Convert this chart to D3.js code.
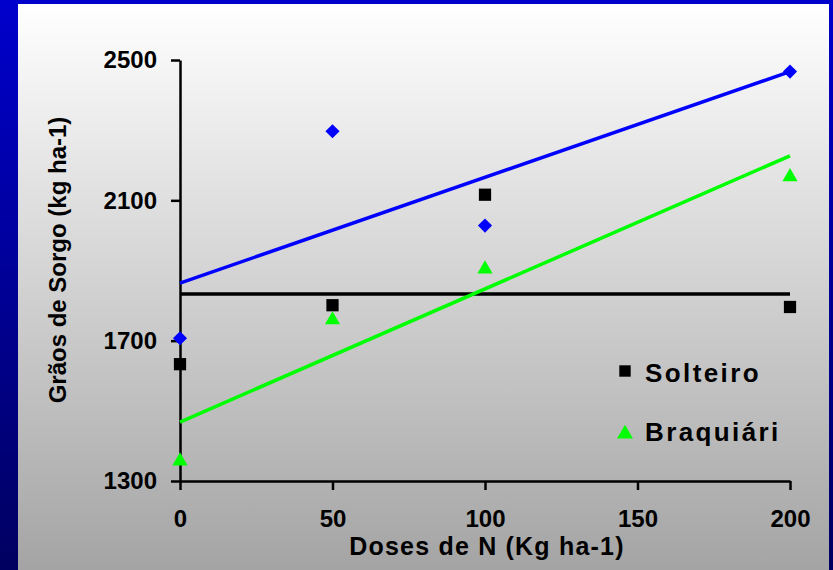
<!DOCTYPE html>
<html>
<head>
<meta charset="utf-8">
<script src="https://cdn.jsdelivr.net/npm/d3@7"></script>
<style>
  body { margin: 0; padding: 0; overflow: hidden; }
  svg { display: block; font-family: "Liberation Sans", Arial, sans-serif; font-weight: bold; }
</style>
</head>
<body>
<div id="chart"></div>
<script>
// Data
const doses = [0, 50, 100, 200];
const solteiro = [1633, 1801, 2116, 1796];
const braquiaria = [1357, 1759, 1904, 2167];
const serie3 = [1707, 2297, 2028, 2467];

// Trend lines (values at dose 0 and 200)
const fitDoses = [0, 200];
const fitSolteiro = [1833, 1833];
const fitBraquiaria = [1468, 2227];
const fitSerie3 = [1864, 2467];

const xTicks = [0, 50, 100, 150, 200];
const yTicks = [1300, 1700, 2100, 2500];

const W = 833, H = 570;
const margin = { top: 60, right: 43, bottom: 89, left: 180 };
const width = W - margin.left - margin.right;
const height = H - margin.top - margin.bottom;

const svg = d3.select("#chart")
    .append("svg")
    .attr("width", W)
    .attr("height", H);

// Backgrounds
const defs = svg.append("defs");
const blue = defs.append("linearGradient").attr("id", "blue")
    .attr("x1", 0).attr("y1", 0).attr("x2", 0).attr("y2", 1);
blue.append("stop").attr("offset", "0%").attr("stop-color", "#0000cc");
blue.append("stop").attr("offset", "100%").attr("stop-color", "#000060");
const gray = defs.append("linearGradient").attr("id", "gray")
    .attr("x1", 0).attr("y1", 0).attr("x2", 0).attr("y2", 1);
gray.append("stop").attr("offset", "0%").attr("stop-color", "#ffffff");
gray.append("stop").attr("offset", "100%").attr("stop-color", "#a4a4a4");

svg.append("rect").attr("width", W).attr("height", H).attr("fill", "url(#blue)");
svg.append("rect").attr("x", 18).attr("y", 4).attr("width", 811).attr("height", H - 4)
    .attr("fill", "url(#gray)");

const g = svg.append("g")
    .attr("transform", "translate(" + margin.left + "," + margin.top + ")");

// Scales
const x = d3.scaleLinear().domain([0, 200]).range([0, width]);
const y = d3.scaleLinear().domain([1300, 2500]).range([height, 0]);

// Axes
const xAxis = g.append("g")
    .attr("transform", "translate(0," + height + ")")
    .call(d3.axisBottom(x).tickValues(xTicks).tickFormat(d3.format("d"))
        .tickSize(9).tickSizeOuter(0).tickPadding(20));
const yAxis = g.append("g")
    .call(d3.axisLeft(y).tickValues(yTicks).tickFormat(d3.format("d"))
        .tickSize(9).tickSizeOuter(0).tickPadding(14));

[xAxis, yAxis].forEach(a => {
    a.select(".domain").attr("stroke", "#000").attr("stroke-width", 2.5);
    a.selectAll(".tick line").attr("stroke", "#000").attr("stroke-width", 2.5);
    a.selectAll(".tick text")
        .attr("fill", "#000")
        .style("font-size", "24px")
        .style("font-weight", "bold")
        .style("font-family", "'Liberation Sans', Arial, sans-serif");
});

// Trend lines
const line = d3.line()
    .x(d => x(d[0]))
    .y(d => y(d[1]));

const fits = [
    { vals: fitSolteiro, color: "#000000" },
    { vals: fitSerie3, color: "#0000ff" },
    { vals: fitBraquiaria, color: "#00ff00" }
];
g.selectAll(".fit")
    .data(fits)
    .enter()
    .append("path")
    .attr("class", "fit")
    .attr("fill", "none")
    .attr("stroke", d => d.color)
    .attr("stroke-width", 3.5)
    .attr("d", d => line(d3.zip(fitDoses, d.vals)));

// Points
const series = [
    { vals: solteiro, color: "#000000", symbol: d3.symbolSquare, size: 150, rotate: 0 },
    { vals: serie3, color: "#0000ff", symbol: d3.symbolSquare, size: 100, rotate: 45 },
    { vals: braquiaria, color: "#00ff00", symbol: d3.symbolTriangle, size: 100, rotate: 0 }
];

series.forEach(s => {
    g.selectAll(null)
        .data(d3.zip(doses, s.vals))
        .enter()
        .append("path")
        .attr("d", d3.symbol().type(s.symbol).size(s.size))
        .attr("fill", s.color)
        .attr("transform", d => "translate(" + x(d[0]) + "," + y(d[1]) + ") rotate(" + s.rotate + ")");
});

// Axis titles
svg.append("text")
    .attr("x", 487)
    .attr("y", 555)
    .attr("text-anchor", "middle")
    .style("font-size", "25px")
    .style("letter-spacing", "1.2px")
    .text("Doses de N (Kg ha-1)");

svg.append("text")
    .attr("transform", "translate(66,260) rotate(-90)")
    .attr("text-anchor", "middle")
    .style("font-size", "24px")
    .text("Grãos de Sorgo (kg ha-1)");

// Legend
const legend = [
    { name: "Solteiro", color: "#000000", symbol: d3.symbolSquare, size: 130, ty: 371, baseline: 382 },
    { name: "Braquiári", color: "#00ff00", symbol: d3.symbolTriangle, size: 110, ty: 434, baseline: 441 }
];
legend.forEach(l => {
    svg.append("path")
        .attr("d", d3.symbol().type(l.symbol).size(l.size))
        .attr("fill", l.color)
        .attr("transform", "translate(625," + l.ty + ")");
    svg.append("text")
        .attr("x", 645)
        .attr("y", l.baseline)
        .style("font-size", "26px")
        .style("letter-spacing", "2.4px")
        .text(l.name);
});
</script>
</body>
</html>
